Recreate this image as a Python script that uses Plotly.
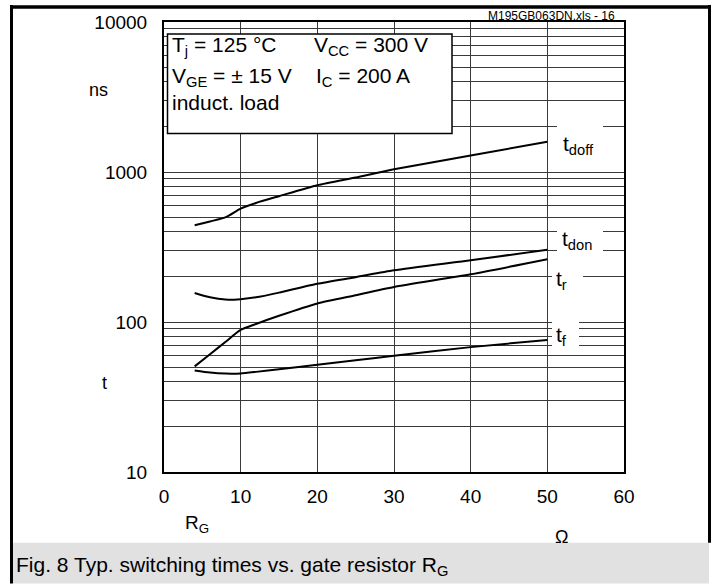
import plotly.graph_objects as go

# ---- data (gate resistor R_G in ohm, times in ns) ----
rg = [4, 6, 8, 10, 12, 15, 20, 25, 30, 40, 50]
t_doff = [441, 468, 498, 570, 622, 690, 817, 920, 1042, 1290, 1590]
t_don = [156, 146, 141, 142, 146, 157, 180, 199, 221, 258, 303]
t_r = [50.6, 61, 73.5, 88.5, 97, 110, 133, 151, 171, 208, 262]
t_f = [47.5, 46, 45.3, 45.4, 46.5, 48.5, 51.9, 55.5, 59.6, 68, 76]

x_ticks = [0, 10, 20, 30, 40, 50, 60]
y_decades = [10, 100, 1000, 10000]
y_tick_labels = ["10", "100", "1000", "10000"]
minor_steps = [2, 3, 4, 5, 6, 7, 8, 9]

series = [("t_doff", t_doff), ("t_don", t_don), ("t_r", t_r), ("t_f", t_f)]

# ---- geometry helpers (pixel -> paper) ----
W, H = 717, 584
L, R, T, B = 164, 624, 20, 472


def px(x):
    return (x - L) / (R - L)


def py(y):
    return (B - y) / (B - T)


FONT = "Liberation Sans, Arial, Helvetica, sans-serif"

fig = go.Figure()
for name, vals in series:
    fig.add_trace(go.Scatter(x=rg, y=vals, mode="lines", name=name,
                             line=dict(color="black", width=2, shape="spline", smoothing=0.6),
                             hoverinfo="x+y"))

# grid values (decades + minor steps)
tickvals, ticktext = [], []
for d, lab in zip(y_decades, y_tick_labels):
    tickvals.append(d)
    ticktext.append(lab)
    if d < y_decades[-1]:
        for m in minor_steps:
            tickvals.append(d * m)
            ticktext.append("")

GRID = "#3a3a3a"
fig.update_layout(
    width=W, height=H,
    margin=dict(l=L, r=W - R, t=T, b=H - B, pad=0),
    paper_bgcolor="white", plot_bgcolor="white",
    showlegend=False,
    font=dict(family=FONT, color="black", size=18),
    xaxis=dict(range=[0, 60], tickvals=x_ticks, ticktext=[str(v) for v in x_ticks],
               showgrid=True, gridcolor=GRID, gridwidth=1,
               showline=True, linecolor="black", linewidth=2, mirror=True,
               ticks="", zeroline=False, tickfont=dict(size=19), ticklabelstandoff=6),
    yaxis=dict(type="log", range=[1, 4], tickvals=tickvals, ticktext=ticktext,
               showgrid=True, gridcolor=GRID, gridwidth=1,
               showline=True, linecolor="black", linewidth=2, mirror=True,
               ticks="", zeroline=False, tickfont=dict(size=19), ticklabelstandoff=11),
)

shapes = []
# condition box (white, covers grid)
shapes.append(dict(type="rect", xref="paper", yref="paper",
                   x0=px(167.5), x1=px(452), y0=py(132), y1=py(32),
                   fillcolor="white", line=dict(color="black", width=1.5), layer="above"))
# white gaps behind the curve labels
for x0, x1, y0, y1 in [(557, 603, 116, 160), (557, 603, 223, 257), (552, 583, 264, 292), (552, 579, 317, 350)]:
    shapes.append(dict(type="rect", xref="paper", yref="paper",
                       x0=px(x0), x1=px(x1), y0=py(y1), y1=py(y0),
                       fillcolor="white", line=dict(width=0), layer="above"))
# caption band
shapes.append(dict(type="rect", xref="paper", yref="paper",
                   x0=px(13), x1=px(709), y0=py(584), y1=py(543),
                   fillcolor="#e1e1e1", line=dict(width=0), layer="above"))
# outer frame
shapes.append(dict(type="line", xref="paper", yref="paper", x0=px(11.5), x1=px(11.5), y0=py(3), y1=py(584),
                   line=dict(color="black", width=3)))
shapes.append(dict(type="line", xref="paper", yref="paper", x0=px(10), x1=px(711), y0=py(5), y1=py(5),
                   line=dict(color="black", width=3.5)))
shapes.append(dict(type="line", xref="paper", yref="paper", x0=px(709.5), x1=px(709.5), y0=py(3), y1=py(543),
                   line=dict(color="black", width=3)))
fig.update_layout(shapes=shapes)


def ann(text, x, y, size=18, xanchor="left", yanchor="middle"):
    fig.add_annotation(text=text, xref="paper", yref="paper", x=px(x), y=py(y),
                       xanchor=xanchor, yanchor=yanchor, showarrow=False,
                       font=dict(family=FONT, size=size, color="black"))


# condition text
ann("T<sub>j</sub> = 125 °C", 170, 44, size=21)
ann("V<sub>CC</sub> = 300 V", 312, 44, size=21)
ann("V<sub>GE</sub> = ± 15 V", 170, 75, size=21)
ann("I<sub>C</sub> = 200 A", 314, 75, size=21)
ann("induct. load", 170, 101, size=21)

# curve labels
ann("t<sub>doff</sub>", 561, 144, size=21)
ann("t<sub>don</sub>", 560, 239, size=21)
ann("t<sub>r</sub>", 554, 279, size=21)
ann("t<sub>f</sub>", 554, 335, size=21)

# axis labels
ann("ns", 98, 88, size=18, xanchor="center")
ann("t", 104, 383, size=18, xanchor="center")
ann("R<sub>G</sub>", 183, 524, size=19)
ann("Ω", 561, 537, size=18, xanchor="center")

# file reference
ann("M195GB063DN.xls - 16", 617, 13.5, size=12, xanchor="right")

# caption
ann("Fig. 8 Typ. switching times vs. gate resistor R<sub>G</sub>", 14, 566, size=21)

fig.write_html("out.html", config={"displayModeBar": False},
               post_script="document.body.style.margin='0';document.body.style.padding='0';")
